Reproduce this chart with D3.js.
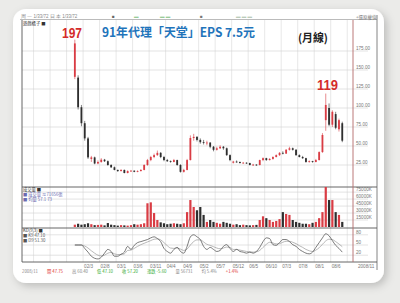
<!DOCTYPE html>
<html>
<head>
<meta charset="utf-8">
<script src="https://cdn.jsdelivr.net/npm/d3@7"></script>
<style>
  body { margin: 0; background: #ebebe9; }
  svg { display: block; font-family: "Liberation Sans", Arial, sans-serif; }
</style>
</head>
<body>
<div id="root"></div>
<script>
const width = 400
const height = 303

// monthly candles [open, high, low, close]
const candles = [
  [141, 190, 138, 185], [140, 143, 98, 101], [101, 104, 76, 80], [80, 83, 57, 60], [60, 62, 33, 35],
  [33, 37, 29, 35], [35, 36, 26, 27], [27, 31, 26, 29], [29, 34, 28, 32], [32, 33, 29, 30],
  [30, 31, 24, 25], [25, 26, 21, 22], [22, 23, 18, 18.5], [18.5, 19, 16, 17], [17, 19.5, 16.5, 18.5],
  [18.5, 19, 14, 14.5], [14.5, 18, 14, 17], [17, 18.5, 16, 17.5], [17.5, 18, 15.5, 16], [16, 18, 15.5, 17],
  [17, 19.5, 16.5, 18.5], [18.5, 26, 18, 25], [25, 33, 24, 31.5], [31.5, 37, 30, 35.5], [35.5, 40, 34, 38],
  [38, 44, 37, 41], [41, 42, 34, 35.5], [35.5, 37, 30, 31.5], [31.5, 33, 29, 30], [30, 31, 28, 29],
  [29, 33, 28.5, 31.5], [31.5, 32, 24, 25], [25, 26, 15, 16], [16, 20, 15, 18.5], [18.5, 33, 18, 31.5],
  [31.5, 64, 31, 60.5], [60.5, 66, 57, 62], [62, 63, 56, 58], [58, 60, 53, 55], [55, 58, 52, 54],
  [54, 57, 51, 54.5], [54.5, 55, 47, 49], [49, 50, 43, 45], [45, 49, 44, 47], [47, 51, 46, 49],
  [49, 50, 45, 47], [47, 48, 37, 38], [38, 39, 30, 31.5], [28, 30.5, 27, 29.5], [29.5, 31, 28, 29],
  [29, 29.5, 27, 27.6], [27.6, 29, 27, 28], [28, 28.5, 26.5, 27.6], [27.6, 28, 24.5, 25], [25, 26.5, 24, 25.5],
  [25.5, 26, 24, 25], [25, 32, 24.5, 31.5], [31.5, 35, 30, 34], [34, 34.5, 30.5, 31.5], [31.5, 34, 31, 33],
  [33, 36.5, 32, 35.5], [35.5, 39, 35, 38], [38, 42, 37, 41], [41, 43, 39, 40], [40, 46, 39.5, 45],
  [45, 49, 44, 47], [47, 48, 44, 45], [45, 46, 37, 38], [38, 39, 35, 35.5], [35.5, 37, 33, 34],
  [34, 34.5, 28, 29], [29, 31, 28, 30], [30, 30.5, 28, 29], [29, 33, 28.5, 31.5], [31.5, 43, 31, 42],
  [42, 67, 41, 64.5], [84, 119, 70, 104], [100, 106, 76, 78], [78, 97, 75, 95], [92, 95, 72, 74],
  [72, 86, 69, 84], [80, 82, 55, 57]
]

// volume, in K shares
const volumes = [
  5000, 7000, 5000, 6000, 8000, 6000, 4000, 4500, 5000, 3500,
  8500, 5000, 4000, 3000, 4000, 3500, 3000, 4000, 6000, 5000,
  6000, 8000, 51000, 53000, 30000, 15000, 10000, 8000, 6000, 7000,
  8000, 7000, 6000, 8000, 32000, 58000, 43000, 36000, 43000, 26000,
  11000, 15000, 11000, 9000, 7000, 11000, 9000, 7000, 5000, 6000,
  4000, 5000, 4000, 3500, 4000, 4500, 15000, 23000, 19000, 15000,
  11000, 13000, 17000, 32000, 28000, 26000, 15000, 11000, 9000, 7000,
  7000, 6000, 9000, 11000, 19000, 32000, 86000, 58000, 58000, 32000,
  26000, 11000
]

const kLine = [
  50, 50, 50, 40, 29, 17, 11, 9, 14, 26, 37, 31, 17, 17, 23, 29,
  46, 37, 49, 57, 60, 63, 66, 71, 74, 69, 60, 40, 31, 26, 37, 43, 31, 26, 46, 74,
  80, 74, 66, 46, 37, 43, 37, 31, 34, 46, 51, 40,
  31, 37, 31, 29, 26, 29, 26,
  31, 43, 60, 71, 69, 51, 49, 57, 66, 66, 60, 51, 46, 37, 31, 26, 24, 29, 43, 57,
  71, 83, 77, 63, 49, 40, 29
]

const dLine = [
  50, 50, 50, 47, 41, 33, 26, 20, 18, 20, 26, 28, 24, 22, 22, 24,
  34, 35, 40, 46, 51, 55, 59, 63, 67, 68, 65, 57, 48, 41, 40, 41, 38, 34, 38, 50,
  60, 65, 65, 59, 52, 49, 45, 41, 39, 41, 44, 43,
  37, 37, 35, 33, 31, 30, 29,
  30, 34, 43, 52, 58, 56, 53, 54, 58, 61, 61, 58, 54, 48, 43, 37, 33, 31, 35, 42,
  52, 62, 67, 66, 60, 53, 45
]

const priceTicks = [25, 50, 75, 100, 125, 150, 175]
const volTicks = [15000, 30000, 45000, 60000, 75000]
const kdTicks = [20, 50, 80]
const dateLabels = ['02/3', '02/8', '03/1', '03/6', '03/11', '04/4', '04/9', '05/2', '05/7',
  '05/12', '06/5', '06/10', '07/3', '07/8', '08/1', '08/6']
const statusItems = [
  ['2008/11', '#888'], ['開 47.75', '#d33'], ['高 60.40', '#888'], ['低 47.10', '#3a3'],
  ['收 57.20', '#3a3'], ['漲跌 -5.60', '#3a3'], ['量 56731', '#888'], ['均 5.4%', '#888'], ['+1.4%', '#d33']
]

const upColor = '#d93c44'
const downColor = '#2e2e2e'

const svg = d3.select('#root').append('svg')
  .attr('width', width)
  .attr('height', height)

const defs = svg.append('defs')
const sh = defs.append('filter').attr('id', 'sh')
  .attr('x', '-10%').attr('y', '-10%').attr('width', '125%').attr('height', '125%')
sh.append('feDropShadow')
  .attr('dx', 3).attr('dy', 3).attr('stdDeviation', 4)
  .attr('flood-color', '#000').attr('flood-opacity', 0.2)

// card
svg.append('rect')
  .attr('x', 13).attr('y', 9)
  .attr('width', 371).attr('height', 274)
  .attr('rx', 13)
  .attr('fill', '#fff')
  .attr('filter', 'url(#sh)')

const left = 22
const right = 353
const axisRight = 377
const mainTop = 20
const volTop = 187
const kdTop = 228
const kdBottom = 262

const x = d3.scaleLinear().domain([-16, 84.25]).range([left, right])
const y = d3.scaleLinear().domain([0, 175]).range([184, 51])
const yv = d3.scaleLinear().domain([0, 86000]).range([227, 187])
const yk = d3.scaleLinear().domain([0, 100]).range([kdBottom, kdTop])

const g = svg.append('g')

// toolbar
g.append('line').attr('x1', 20).attr('x2', axisRight).attr('y1', 19.5).attr('y2', 19.5)
  .attr('stroke', '#aaa').attr('stroke-width', 0.8)
const toolbar = [
  [21, '周 一 1/33/72 日 本 1/33/72', '#888'], [112, '■', '#666'], [134, '▬', '#9c9'],
  [160, '▬ ▬', '#9c9'], [200, '■', '#777'], [236, '▬ ▬ ▬', '#bcb']
]
g.selectAll('.tb').data(toolbar).join('text')
  .attr('x', d => d[0]).attr('y', 18)
  .attr('font-size', 4.5)
  .attr('fill', d => d[2])
  .text(d => d[1])
g.append('text').attr('x', 356).attr('y', 18.5).attr('font-size', 4.5).attr('fill', '#777')
  .attr('font-family', 'Noto Sans CJK TC').text('+還原權值')

// vertical grid
const gridX = d3.range(-12.5, 84, 5)
g.selectAll('.vg').data(gridX).join('line')
  .attr('x1', d => x(d)).attr('x2', d => x(d))
  .attr('y1', mainTop).attr('y2', kdBottom)
  .attr('stroke', '#d6d6d6').attr('stroke-width', 0.6)

// horizontal grids
const hgrid = (ticks, scale) => g.append('g').selectAll('line').data(ticks).join('line')
  .attr('x1', left).attr('x2', 368)
  .attr('y1', d => scale(d)).attr('y2', d => scale(d))
  .attr('stroke', '#d0d0d0').attr('stroke-width', 0.6)
hgrid(priceTicks, y)
hgrid(volTicks, yv)
hgrid(kdTicks, yk)

// axis labels
const axisLabels = (ticks, scale, fmt) => g.append('g').selectAll('text').data(ticks).join('text')
  .attr('x', 356).attr('y', d => scale(d) - 1)
  .attr('font-size', 4.6).attr('fill', '#777')
  .text(fmt)
axisLabels(priceTicks, y, d => d.toFixed(2))
axisLabels(volTicks, yv, d => d + 'K')
axisLabels(kdTicks, yk, d => d)

// date labels
g.selectAll('.dl').data(dateLabels).join('text')
  .attr('x', (d, i) => x(2.5 + i * 5) + 1).attr('y', 267.5)
  .attr('font-size', 4.6).attr('fill', '#777')
  .text(d => d)
g.append('text').attr('x', 358).attr('y', 267.5).attr('font-size', 4.6).attr('fill', '#777').text('2008/11')

// panel frame
const frame = g.append('g').attr('stroke', '#555').attr('stroke-width', 0.9)
frame.append('line').attr('x1', left).attr('x2', left).attr('y1', mainTop).attr('y2', kdBottom)
frame.append('line').attr('x1', axisRight).attr('x2', axisRight).attr('y1', 15).attr('y2', 270).attr('stroke', '#777')
;[volTop, kdTop, kdBottom].forEach(v => {
  frame.append('line').attr('x1', left).attr('x2', axisRight).attr('y1', v).attr('y2', v)
})
frame.append('line').attr('x1', right).attr('x2', right).attr('y1', mainTop).attr('y2', kdBottom)
  .attr('stroke', '#b36a6a')

// candles
const cg = g.append('g')
cg.selectAll('line').data(candles).join('line')
  .attr('x1', (d, i) => x(i)).attr('x2', (d, i) => x(i))
  .attr('y1', d => y(d[1])).attr('y2', d => y(d[2]))
  .attr('stroke', d => d[3] >= d[0] ? upColor : downColor)
  .attr('stroke-width', 0.6)
cg.selectAll('rect').data(candles).join('rect')
  .attr('x', (d, i) => x(i) - 0.9)
  .attr('width', 1.8)
  .attr('y', d => y(Math.max(d[0], d[3])))
  .attr('height', d => Math.max(0.8, Math.abs(y(d[0]) - y(d[3]))))
  .attr('fill', d => d[3] >= d[0] ? upColor : downColor)

// volume
g.append('g').selectAll('rect').data(volumes).join('rect')
  .attr('x', (d, i) => x(i) - 1.1)
  .attr('width', 2.2)
  .attr('y', d => yv(d))
  .attr('height', d => yv(0) - yv(d))
  .attr('fill', (d, i) => candles[i][3] >= candles[i][0] ? upColor : downColor)

// KD lines
const kd = d3.line().x((d, i) => x(i)).y(d => yk(d)).curve(d3.curveMonotoneX)
g.append('path').attr('d', kd(dLine)).attr('fill', 'none').attr('stroke', '#9a9a9a').attr('stroke-width', 0.7)
g.append('path').attr('d', kd(kLine)).attr('fill', 'none').attr('stroke', '#444').attr('stroke-width', 0.7)

// panel legends
const tiny = (px, py, txt, col) => g.append('text').attr('x', px).attr('y', py)
  .attr('font-size', 4.3).attr('fill', col).attr('font-family', 'Noto Sans CJK TC').text(txt)
tiny(23, 24.5, '遊戲橘子 ■', '#333')
tiny(23, 191, '成交量 ■', '#333')
tiny(23, 196, '■ 成交量 ≈71656張', '#6a6ab0')
tiny(23, 201, '■ 均量 57.1 73', '#6a6ab0')
tiny(23, 232, 'KD(9,3) ■', '#333')
tiny(23, 237, '■ K9 47.10', '#555')
tiny(23, 242, '■ D9 51.30', '#555')

// status bar
let sx = 22
statusItems.forEach(d => {
  const t = tiny(sx, 272.5, d[0], d[1])
  sx += t.node().getComputedTextLength() + 9
})

// annotations
g.append('text').attr('x', 62).attr('y', 38)
  .attr('font-size', 15).attr('font-weight', 'bold').attr('fill', '#d42b2b')
  .attr('textLength', 20).attr('lengthAdjust', 'spacingAndGlyphs')
  .text('197')
g.append('text').attr('x', 102).attr('y', 37)
  .attr('font-family', '"Noto Sans CJK TC", sans-serif')
  .attr('font-size', 12.5).attr('font-weight', 'bold').attr('fill', '#1f74bb')
  .attr('textLength', 153).attr('lengthAdjust', 'spacingAndGlyphs')
  .text('91年代理「天堂」EPS 7.5元')
g.append('text').attr('x', 298).attr('y', 42)
  .attr('font-family', '"Noto Sans CJK TC", sans-serif')
  .attr('font-size', 11).attr('font-weight', 'bold').attr('fill', '#222')
  .attr('textLength', 30).attr('lengthAdjust', 'spacingAndGlyphs')
  .text('(月線)')
g.append('text').attr('x', 317).attr('y', 90)
  .attr('font-size', 15).attr('font-weight', 'bold').attr('fill', '#d42b2b')
  .attr('textLength', 21).attr('lengthAdjust', 'spacingAndGlyphs')
  .text('119')
</script>
</body>
</html>
